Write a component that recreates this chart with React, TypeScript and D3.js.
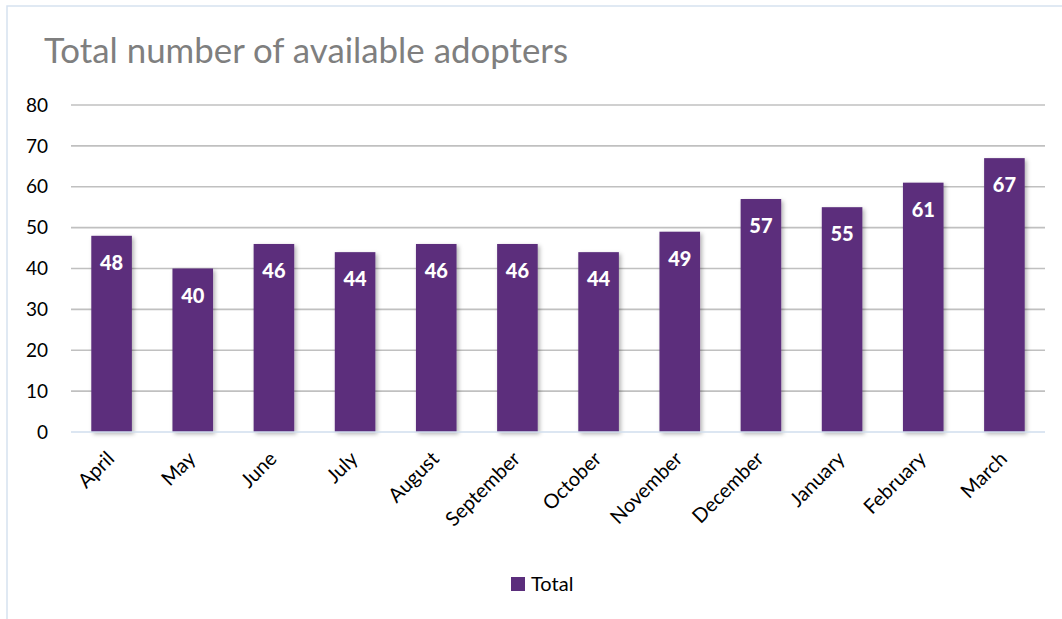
import React from "react";
import * as d3 from "d3";

const months = ["April","May","June","July","August","September","October","November","December","January","February","March"];
const totals = [48, 40, 46, 44, 46, 46, 44, 49, 57, 55, 61, 67];
const yTicks = [0, 10, 20, 30, 40, 50, 60, 70, 80];
const titleText = "Total number of available adopters";
const seriesName = "Total";

const W = 1062, H = 619;
const plot = { left: 71, right: 1045, top: 105, bottom: 432 };
const barColor = "#5b2e7c";
const font = "Lato, 'Open Sans', sans-serif";

export default function App() {
  const x = d3.scaleBand<string>().domain(months).range([plot.left, plot.right]).paddingInner(0.5).paddingOuter(0.25);
  const y = d3.scaleLinear().domain([0, 80]).range([plot.bottom, plot.top]);
  return (
    <div style={{ position: "absolute", left: 0, top: 0 }}>
      <svg width={W} height={H} style={{ display: "block", background: "#fff" }}>
        <defs>
          <filter id="sh" x="-30%" y="-10%" width="160%" height="130%">
            <feDropShadow dx="2" dy="2" stdDeviation="2" floodColor="#000" floodOpacity="0.3" />
          </filter>
        </defs>
        <rect x={7} y={6} width={W + 20} height={H + 20} fill="none" stroke="#d6e2f0" strokeWidth={1.5} />
        <text x={44} y={63} fontFamily={font} fontSize={34} fill="#7f7f7f" textLength={524} lengthAdjust="spacingAndGlyphs">{titleText}</text>
        {yTicks.map(t => (
          <g key={t}>
            {t > 0 && <line x1={plot.left} x2={plot.right} y1={y(t)} y2={y(t)} stroke="#c0c0c0" strokeWidth={1.6} />}
            <text x={48} y={y(t)} dy="0.35em" textAnchor="end" fontFamily={font} fontSize={19} fill="#000">{t}</text>
          </g>
        ))}
        {months.map((m, i) => (
          <rect key={m} x={x(m)} y={y(totals[i])} width={x.bandwidth()} height={plot.bottom - y(totals[i])} fill={barColor} filter="url(#sh)" />
        ))}
        <line x1={plot.left} x2={plot.right} y1={plot.bottom} y2={plot.bottom} stroke="#d0deee" strokeWidth={1.5} />
        {months.map((m, i) => (
          <text key={m + "l"} x={(x(m) as number) + x.bandwidth() / 2} y={y(totals[i]) + 27} dy="0.35em" textAnchor="middle" fontFamily={font} fontWeight={900} fontSize={20} fill="#fff">{totals[i]}</text>
        ))}
        {months.map(m => {
          const cx = (x(m) as number) + x.bandwidth() / 2 + 4;
          const cy = plot.bottom + 28;
          return (
            <text key={m + "x"} transform={`translate(${cx},${cy}) rotate(-45)`} textAnchor="end" fontFamily={font} fontSize={20} fill="#000">{m}</text>
          );
        })}
        <rect x={511} y={577} width={14} height={14} fill={barColor} />
        <text x={531} y={590.5} fontFamily={font} fontSize={20} fill="#000">{seriesName}</text>
      </svg>
    </div>
  );
}
